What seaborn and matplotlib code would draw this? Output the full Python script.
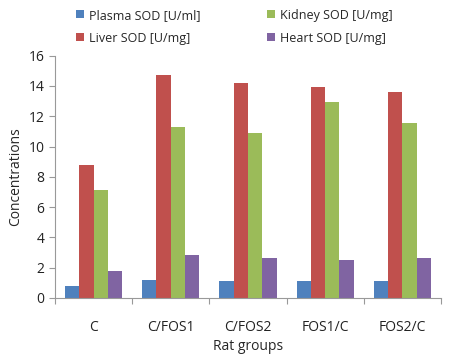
import matplotlib.pyplot as plt
import pandas as pd
import seaborn as sns

groups = ['C', 'C/FOS1', 'C/FOS2', 'FOS1/C', 'FOS2/C']
series = ['Plasma SOD [U/ml]', 'Liver SOD [U/mg]', 'Kidney SOD [U/mg]', 'Heart SOD [U/mg]']
plasma = [0.8, 1.17, 1.1, 1.1, 1.1]
liver = [8.8, 14.73, 14.18, 13.9, 13.6]
kidney = [7.1, 11.3, 10.88, 12.97, 11.56]
heart = [1.75, 2.84, 2.62, 2.51, 2.62]
colors = ['#4F81BD', '#C0504D', '#9BBB59', '#8064A2']

rows = []
for name, vals in zip(series, [plasma, liver, kidney, heart]):
    for g, v in zip(groups, vals):
        rows.append({'Group': g, 'Series': name, 'Value': v})
df = pd.DataFrame(rows)

sns.set_theme(style="white")
plt.rcParams['font.family'] = ['Open Sans', 'DejaVu Sans']

fig = plt.figure(figsize=(4.5, 3.59), dpi=100)
ax = fig.add_axes([0.122, 0.17, 0.858, 0.675])

sns.barplot(data=df, x='Group', y='Value', hue='Series', hue_order=series,
            palette=colors, width=0.74, saturation=1, linewidth=0,
            edgecolor='none', ax=ax, legend=True)

ax.set_ylim(0, 16)
ax.set_yticks(range(0, 17, 2))
ax.set_xlim(-0.5, len(groups) - 0.5)
ax.set_xlabel('Rat groups', fontsize=10, labelpad=3)
ax.set_ylabel('Concentrations', fontsize=10, labelpad=4)
ax.tick_params(axis='both', labelsize=10, colors='#222222')
ax.tick_params(axis='x', length=0, pad=16)
ax.tick_params(axis='y', left=True, length=4, color='#999999', width=0.8)
ax.set_xticks([i + 0.5 for i in range(-1, len(groups))], minor=True)
ax.tick_params(axis='x', which='minor', bottom=True, length=4, color='#999999', width=0.8)

for side in ['top', 'right']:
    ax.spines[side].set_visible(False)
for side in ['left', 'bottom']:
    ax.spines[side].set_color('#999999')
    ax.spines[side].set_linewidth(0.8)

h, l = ax.get_legend_handles_labels()
ax.legend(h, l, ncol=2, loc='lower left', bbox_to_anchor=(0.055, 1.045),
          frameon=False, fontsize=9, handlelength=0.6, handleheight=0.6,
          handletextpad=0.45, columnspacing=5.3, labelspacing=0.8,
          borderaxespad=0, borderpad=0)

fig.savefig('out.png', dpi=100)
